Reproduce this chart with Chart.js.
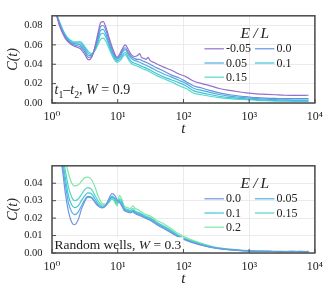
<!DOCTYPE html>
<html><head><meta charset="utf-8">
<script src="https://cdn.jsdelivr.net/npm/chart.js@4"></script>
<style>
html,body{margin:0;padding:0;background:#fff;width:330px;height:300px;overflow:hidden;}
.w{position:absolute;left:0;width:330px;height:150px;}
#w1{top:0}#w2{top:150px}
</style></head><body>
<div class="w" id="w1"><canvas id="c1" width="330" height="150"></canvas></div>
<div class="w" id="w2"><canvas id="c2" width="330" height="150"></canvas></div>
<script>
// ---------- shared axis data ----------
const X_TICKS = [1, 10, 100, 1000, 10000];
const X_TICK_LABELS = ['10⁰', '10¹', '10²', '10³', '10⁴'];

// ---------- top panel: t1-t2, W = 0.9 ----------
const TOP_LABELS = ['-0.05', '0.0', '0.05', '0.1', '0.15'];
const TOP_Y_TICKS = [0, 0.02, 0.04, 0.06, 0.08];
const T_TOP = [1.15,1.3,1.5,1.7,2.0,2.3,2.7,3.1,3.6,4.0,4.5,5.0,5.5,6.0,6.7,7.5,8.5,9.8,11,12,13,14.5,16,18,20,21.5,23,25,27,29,31,35,40,50,65,85,110,145,190,250,350,500,700,900,1300,1800,2500,3500,5000,8000];
const TOP_M005 = [0.093,0.080,0.070,0.064,0.060,0.058,0.056,0.051,0.0445,0.047,0.058,0.072,0.083,0.084,0.077,0.066,0.055,0.047,0.052,0.057,0.060,0.055,0.050,0.048,0.049,0.051,0.047,0.046,0.045,0.047,0.044,0.042,0.040,0.037,0.034,0.030,0.027,0.0225,0.020,0.018,0.015,0.013,0.0115,0.0105,0.0095,0.009,0.0085,0.008,0.0078,0.008];
const TOP_000 = [0.093,0.081,0.071,0.065,0.061,0.0595,0.058,0.0535,0.047,0.048,0.057,0.069,0.079,0.080,0.074,0.063,0.053,0.046,0.050,0.055,0.057,0.052,0.048,0.046,0.045,0.045,0.044,0.043,0.042,0.041,0.040,0.038,0.036,0.033,0.029,0.026,0.022,0.0175,0.0155,0.013,0.0105,0.0085,0.0072,0.0065,0.0055,0.005,0.0047,0.0045,0.0045,0.0045];
const TOP_005 = [0.093,0.082,0.072,0.066,0.062,0.061,0.060,0.0555,0.049,0.049,0.056,0.066,0.075,0.076,0.070,0.060,0.051,0.045,0.048,0.053,0.055,0.050,0.046,0.044,0.043,0.042,0.041,0.040,0.039,0.038,0.037,0.035,0.033,0.030,0.027,0.0235,0.020,0.015,0.013,0.011,0.0088,0.007,0.006,0.0054,0.0045,0.004,0.0035,0.0032,0.003,0.003];
const TOP_010 = [0.093,0.083,0.073,0.067,0.063,0.062,0.062,0.0575,0.051,0.050,0.055,0.063,0.071,0.072,0.067,0.058,0.049,0.0435,0.046,0.050,0.052,0.047,0.043,0.041,0.040,0.039,0.038,0.037,0.036,0.035,0.034,0.032,0.030,0.027,0.024,0.021,0.0175,0.0125,0.0105,0.0088,0.007,0.0056,0.0048,0.0044,0.0035,0.003,0.0026,0.0023,0.0022,0.0022];
const TOP_015 = [0.093,0.084,0.074,0.068,0.064,0.063,0.0635,0.059,0.053,0.051,0.054,0.060,0.066,0.067,0.063,0.055,0.047,0.042,0.044,0.048,0.050,0.045,0.041,0.039,0.038,0.037,0.036,0.035,0.034,0.033,0.032,0.030,0.028,0.025,0.022,0.018,0.015,0.010,0.0085,0.007,0.0055,0.0045,0.0038,0.0035,0.0028,0.0023,0.002,0.0018,0.0017,0.0017];
const TOP_COLORS = ['#9470cc', '#6592dc', '#4eaee0', '#3fc4d4', '#55d8d0'];

// ---------- bottom panel: Random wells, W = 0.3 ----------
const BOT_LABELS = ['0.0', '0.05', '0.1', '0.15', '0.2'];
const BOT_Y_TICKS = [0, 0.01, 0.02, 0.03, 0.04];
const T_BOT = [1.3,1.45,1.6,1.8,2.0,2.2,2.5,2.8,3.1,3.5,4.0,4.5,5.0,5.8,6.5,7.3,8.2,9.0,9.8,10.6,11.5,12.5,14,15.5,17,18.5,20,23,27,32,40,50,65,85,110,150,200,280,400,600,900,1300,2000,3000,4500,6000,8000];
const BOT_000 = [0.060,0.047,0.034,0.023,0.0175,0.0162,0.019,0.025,0.029,0.032,0.0315,0.029,0.027,0.0258,0.027,0.031,0.034,0.033,0.0305,0.029,0.027,0.0245,0.0235,0.023,0.0235,0.0225,0.022,0.021,0.0198,0.0185,0.016,0.014,0.0115,0.009,0.0072,0.0055,0.0042,0.003,0.0022,0.0016,0.0012,0.0010,0.0009,0.0008,0.0009,0.0008,0.0008];
const BOT_005 = [0.062,0.050,0.039,0.028,0.0235,0.022,0.0235,0.027,0.030,0.0325,0.032,0.0295,0.0275,0.026,0.027,0.030,0.0325,0.0315,0.030,0.0295,0.028,0.025,0.024,0.0235,0.024,0.023,0.0225,0.0215,0.020,0.019,0.0165,0.0145,0.012,0.0093,0.0075,0.0057,0.0044,0.0031,0.0023,0.0017,0.0012,0.001,0.0009,0.0008,0.0008,0.0009,0.0008];
const BOT_010 = [0.064,0.053,0.043,0.032,0.0275,0.026,0.027,0.030,0.0325,0.0345,0.034,0.031,0.0285,0.0265,0.027,0.0295,0.032,0.031,0.029,0.030,0.029,0.0255,0.0245,0.024,0.0245,0.0235,0.023,0.022,0.0205,0.0195,0.017,0.015,0.0125,0.0097,0.0078,0.006,0.0046,0.0033,0.0024,0.0017,0.0013,0.001,0.0009,0.0008,0.0009,0.0008,0.0008];
const BOT_015 = [0.066,0.056,0.047,0.037,0.032,0.030,0.031,0.0335,0.036,0.0375,0.0365,0.033,0.030,0.0275,0.0275,0.029,0.0315,0.030,0.028,0.031,0.030,0.026,0.025,0.0245,0.0255,0.024,0.0235,0.0225,0.021,0.020,0.0175,0.0155,0.013,0.010,0.008,0.0062,0.0047,0.0034,0.0025,0.0018,0.0013,0.0011,0.0009,0.0009,0.0008,0.0008,0.0009];
const BOT_020 = [0.070,0.062,0.053,0.045,0.040,0.0385,0.039,0.041,0.043,0.0435,0.042,0.038,0.033,0.0285,0.028,0.029,0.031,0.029,0.027,0.033,0.031,0.027,0.026,0.0255,0.027,0.0255,0.025,0.0235,0.022,0.021,0.0185,0.0168,0.014,0.011,0.0088,0.0068,0.0052,0.0037,0.0027,0.002,0.0015,0.0012,0.001,0.0009,0.0009,0.0009,0.0009];
const BOT_COLORS = ['#7394e0', '#4fb2e4', '#40c6d8', '#52d6c0', '#7ee8a4'];

const SERIF = '"Liberation Serif", "DejaVu Serif", serif';
const TXT = '#222';

function drawRuns(ctx, x, y, runs, size) {
  runs.forEach(r => {
    const s = r.sub ? size * 0.7 : size;
    ctx.font = (r.it ? 'italic ' : '') + s + 'px ' + SERIF;
    ctx.fillText(r.t, x, y + (r.sub ? size * 0.28 : 0));
    x += ctx.measureText(r.t).width;
  });
  return x;
}

function makeDecor(annotRuns, annotSize, annotLift) {
  return {
    id: 'decor',
    afterDatasetsDraw(chart) {
      const ctx = chart.ctx, a = chart.chartArea;
      ctx.save();
      ctx.textBaseline = 'alphabetic'; ctx.textAlign = 'left';
      const bx = a.left + 2.5, by = a.bottom - annotLift;
      ctx.globalAlpha = 0;
      const endX = drawRuns(ctx, bx, by, annotRuns, annotSize);
      ctx.globalAlpha = 1;
      ctx.fillStyle = '#fff';
      ctx.fillRect(a.left + 1, by - annotSize * 0.85, endX - a.left + 1, a.bottom - (by - annotSize * 0.85) - 1);
      ctx.fillStyle = TXT;
      drawRuns(ctx, bx, by, annotRuns, annotSize);
      // legend
      ctx.textAlign = 'center'; ctx.textBaseline = 'middle';
      ctx.font = 'italic 15.5px ' + SERIF;
      ctx.fillText('E\u2009/\u2009L', a.right - 60, a.top + 18);
      ctx.font = '12px ' + SERIF; ctx.textAlign = 'left';
      chart.data.datasets.forEach((ds, i) => {
        const col = i % 2, row = Math.floor(i / 2);
        const x0 = a.right - (col ? 60 : 110.5);
        const y = a.top + 33 + row * 14.2;
        ctx.strokeStyle = ds.borderColor; ctx.lineWidth = 1.2;
        ctx.beginPath(); ctx.moveTo(x0, y); ctx.lineTo(x0 + 19.5, y); ctx.stroke();
        ctx.fillStyle = TXT;
        ctx.fillText(ds.label, x0 + 21.5, y + 0.5);
      });
      ctx.restore();
    },
    afterDraw(chart) {
      const ctx = chart.ctx, a = chart.chartArea;
      ctx.save();
      ctx.strokeStyle = '#4a4a4a'; ctx.lineWidth = 1;
      const xs = chart.scales.x, ys = chart.scales.y;
      ctx.beginPath();
      X_TICKS.forEach(v => { const p = xs.getPixelForValue(v); ctx.moveTo(p, a.bottom); ctx.lineTo(p, a.bottom - 4); });
      ys.ticks.forEach(t => { const p = ys.getPixelForValue(t.value); ctx.moveTo(a.left, p); ctx.lineTo(a.left + 4, p); });
      ctx.stroke();
      ctx.lineWidth = 1.5;
      ctx.strokeRect(a.left, a.top, a.right - a.left, a.bottom - a.top);
      ctx.restore();
    }
  };
}

function makeChart(id, T, series, labels, colors, yMax, yTicks, annotRuns, annotSize, annotLift) {
  const datasets = series.map((arr, i) => ({
    label: labels[i],
    data: T.map((t, j) => ({ x: t, y: arr[j] })),
    borderColor: colors[i], backgroundColor: colors[i],
    borderWidth: 1.2, pointRadius: 0, fill: false,
    cubicInterpolationMode: 'monotone'
  }));
  return new Chart(document.getElementById(id), {
    type: 'line',
    data: { datasets },
    options: {
      responsive: false, animation: false, devicePixelRatio: 1,
      layout: { padding: { top: 10, right: 9.5, left: 0, bottom: 0 } },
      plugins: { legend: { display: false }, tooltip: { enabled: false } },
      scales: {
        x: {
          type: 'logarithmic', min: 1, max: 10000,
          afterBuildTicks: s => { s.ticks = X_TICKS.map(v => ({ value: v })); },
          afterFit: s => { s.height = 47; },
          ticks: { callback: (v, i) => X_TICK_LABELS[i], font: { family: SERIF, size: 12 }, color: TXT, padding: 7, maxRotation: 0, autoSkip: false },
          grid: { color: '#e6e6e6', lineWidth: 0.8, drawTicks: false },
          border: { display: false },
          title: { display: true, text: 't', font: { family: SERIF, size: 15, style: 'italic' }, color: TXT, padding: { top: 0, bottom: 12 } }
        },
        y: {
          min: 0, max: yMax,
          afterBuildTicks: s => { s.ticks = yTicks.map(v => ({ value: v })); },
          afterFit: s => { s.width = 52; },
          ticks: { callback: v => v.toFixed(2), font: { family: SERIF, size: 10.5 }, color: TXT, padding: 9.5 },
          grid: { color: '#e6e6e6', lineWidth: 0.8, drawTicks: false },
          border: { display: false },
          title: { display: true, text: 'C(t)', font: { family: SERIF, size: 14, style: 'italic' }, color: TXT, padding: { top: 5, bottom: 0 } }
        }
      }
    },
    plugins: [makeDecor(annotRuns, annotSize, annotLift)]
  });
}

makeChart('c1', T_TOP, [TOP_M005, TOP_000, TOP_005, TOP_010, TOP_015], TOP_LABELS, TOP_COLORS, 0.09, TOP_Y_TICKS,
  [{t:'t',it:1},{t:'1',sub:1},{t:'–'},{t:'t',it:1},{t:'2',sub:1},{t:', '},{t:'W',it:1},{t:' = 0.9'}], 14, 8.7);
makeChart('c2', T_BOT, [BOT_000, BOT_005, BOT_010, BOT_015, BOT_020], BOT_LABELS, BOT_COLORS, 0.05, BOT_Y_TICKS,
  [{t:'Random wells, '},{t:'W',it:1},{t:' = 0.3'}], 13.5, 4.3);
</script>
</body></html>
